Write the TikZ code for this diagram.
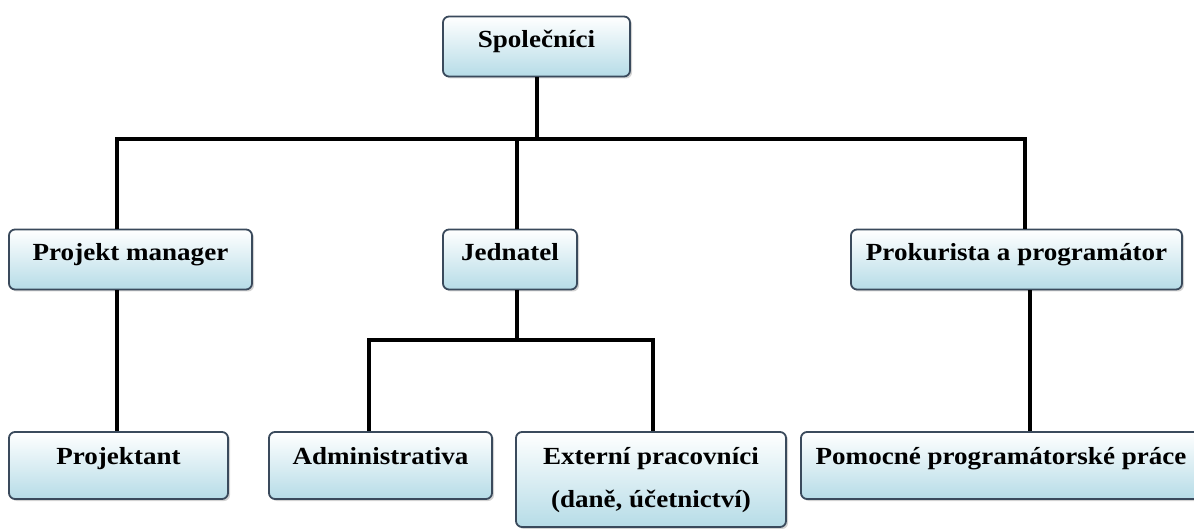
\documentclass[tikz,border=0pt]{standalone}
\usepackage{fontspec}
\setmainfont{Liberation Serif}[FakeStretch=1.1]
\usepackage{tikz}
\usetikzlibrary{shadows}
\definecolor{boxline}{HTML}{3A4A5C}
\definecolor{boxblue}{HTML}{B6DCE7}

\begin{document}
\begin{tikzpicture}[
  x=0.5pt, y=-0.5pt,
  font=\fontsize{12.3}{14}\selectfont\bfseries,
  box/.style={draw=boxline, line width=0.9pt, rounded corners=3pt, top color=white,
              bottom color=boxblue, inner sep=0pt, align=center,
              drop shadow={shadow xshift=1pt, shadow yshift=-1pt, opacity=0.35}},
  upper/.style={box, text height=15.5pt, text depth=14.5pt},
  lower/.style={box, text height=16pt, text depth=17.5pt},
  wire/.style={line width=1.8pt, line join=miter},
]
\useasboundingbox (0,0) rectangle (1194,529);
\clip (0,0) rectangle (1194,529);
% -- top
\node[upper, minimum width=93.5pt] (spol) at (536.5,46.5) {Společníci};
% -- second row
\node[upper, minimum width=121.5pt] (pm) at (130.5,259.5) {Projekt manager};
\node[upper, minimum width=67pt] (jed) at (510,259.5) {Jednatel};
\node[upper, minimum width=165.5pt] (prok) at (1016.5,259.5) {Prokurista a programátor};
% -- bottom row
\node[lower, minimum width=109.5pt] (prt) at (118.5,465.5) {Projektant};
\node[lower, minimum width=111.5pt] (adm) at (380.5,465.5) {Administrativa};
\node[box, minimum width=135pt, text height=37.5pt, text depth=10pt,
      font=\fontsize{12.3}{21.5}\selectfont\bfseries] (ext) at (651,479.5)
  {Externí pracovníci\\(daně, účetnictví)};
\node[lower, minimum width=200pt] (pom) at (1001,465.5) {Pomocné programátorské práce};
% -- connectors
\coordinate (busL) at (117,139);
\coordinate (busJ) at (517,139);
\coordinate (busR) at (1025,139);
\coordinate (subL) at (369,340);
\coordinate (subJ) at (517,340);
\coordinate (subR) at (653,340);
\coordinate (pk) at (1030,290);
\draw[wire] (spol.south -| 537,0) -- (537,139);
\draw[wire] (busL |- pm.north) -- (busL) -- (busR) -- (busR |- prok.north);
\draw[wire] (busJ) -- (busJ |- jed.north);
\draw[wire] (busL |- pm.south) -- (busL |- prt.north);
\draw[wire] (subJ |- jed.south) -- (subJ);
\draw[wire] (subL |- adm.north) -- (subL) -- (subR) -- (subR |- ext.north);
\draw[wire] (pk |- prok.south) -- (pk |- pom.north);
\end{tikzpicture}
\end{document}
